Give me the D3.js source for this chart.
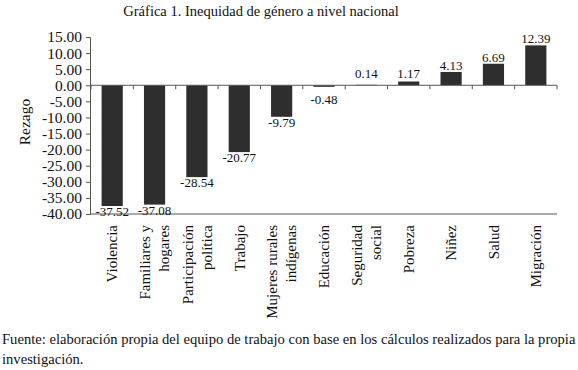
<!DOCTYPE html>
<html>
<head>
<meta charset="utf-8">
<script src="https://cdn.jsdelivr.net/npm/d3@7"></script>
<style>
  body { margin: 0; background: #fff; }
  text { font-family: "Liberation Serif", "DejaVu Serif", serif; fill: #111; }
</style>
</head>
<body>
<div id="chart"></div>
<script>
// DATA
const categories = ["Violencia", "Familiares y|hogares", "Participación|política", "Trabajo",
  "Mujeres rurales|indígenas", "Educación", "Seguridad|social", "Pobreza", "Niñez", "Salud", "Migración"];
const values = [-37.52, -37.08, -28.54, -20.77, -9.79, -0.48, 0.14, 1.17, 4.13, 6.69, 12.39];
const yTicks = [15, 10, 5, 0, -5, -10, -15, -20, -25, -30, -35, -40];

const width = 578, height = 370;
const margin = {top: 37, right: 21, bottom: 156, left: 91};

// plain hyphen for negatives, like the original
const fmt = d3.formatLocale({decimal: ".", thousands: ",", grouping: [3], currency: ["", ""], minus: "-"}).format(".2f");

const svg = d3.select("#chart").append("svg")
  .attr("width", width)
  .attr("height", height);

// SCALES
const xScale = d3.scaleBand()
  .domain(categories)
  .range([margin.left, width - margin.right])
  .paddingInner(0.5)
  .paddingOuter(0.25);

const yScale = d3.scaleLinear()
  .domain([-40, 15])
  .range([height - margin.bottom, margin.top]);

// title
svg.append("text")
  .attr("x", 261)
  .attr("y", 16)
  .attr("text-anchor", "middle")
  .style("font-size", "14.5px")
  .text("Gráfica 1. Inequidad de género a nivel nacional");

// Y AXIS
const yAxis = d3.axisLeft(yScale)
  .tickValues(yTicks)
  .tickFormat(fmt)
  .tickSize(4)
  .tickPadding(4);

const yAxisGroup = svg.append("g")
  .attr("transform", `translate(${margin.left - 1},0)`)
  .call(yAxis);
yAxisGroup.select(".domain").attr("stroke", "#555");
yAxisGroup.selectAll(".tick line").attr("stroke", "#555");
yAxisGroup.selectAll(".tick text")
  .style("font-size", "15.5px")
  .attr("fill", "#111")
  .attr("font-family", null);

svg.append("text")
  .attr("transform", `translate(30, 122) rotate(-90)`)
  .attr("text-anchor", "middle")
  .style("font-size", "15.5px")
  .text("Rezago");

// bottom line at -40
svg.append("line")
  .attr("x1", margin.left - 1).attr("x2", width - margin.right)
  .attr("y1", yScale(-40)).attr("y2", yScale(-40))
  .attr("stroke", "#555");

// BARS
svg.selectAll("rect.bar")
  .data(values)
  .join("rect")
  .attr("class", "bar")
  .attr("x", (d, i) => xScale(categories[i]))
  .attr("width", xScale.bandwidth())
  .attr("y", d => yScale(Math.max(0, d)))
  .attr("height", d => Math.abs(yScale(d) - yScale(0)))
  .attr("fill", "#2e2e2e");

// zero axis with category ticks
const zeroY = yScale(0);
svg.append("line")
  .attr("x1", margin.left - 1).attr("x2", width - margin.right)
  .attr("y1", zeroY).attr("y2", zeroY)
  .attr("stroke", "#555");
const step = xScale.step();
const bounds = d3.range(categories.length + 1).map(i => margin.left + i * step);
svg.selectAll("line.ctick")
  .data(bounds)
  .join("line")
  .attr("class", "ctick")
  .attr("x1", d => d).attr("x2", d => d)
  .attr("y1", zeroY).attr("y2", zeroY + 4)
  .attr("stroke", "#555");

// value labels
svg.selectAll("text.val")
  .data(values)
  .join("text")
  .attr("class", "val")
  .attr("x", (d, i) => xScale(categories[i]) + xScale.bandwidth() / 2)
  .attr("y", d => d < 0 ? Math.max(yScale(d) + 10, zeroY + 19) : Math.min(yScale(d) - 2, zeroY - 7))
  .attr("text-anchor", "middle")
  .style("font-size", "13px")
  .text(d => fmt(d));

// category labels
const labelTop = 225;
const catG = svg.selectAll("g.cat")
  .data(categories)
  .join("g")
  .attr("class", "cat")
  .attr("transform", d => `translate(${xScale(d) + xScale.bandwidth() / 2}, ${labelTop}) rotate(-90)`);

catG.each(function(d) {
  const lines = d.split("|");
  const g = d3.select(this);
  lines.forEach((ln, j) => {
    g.append("text")
      .attr("x", 0)
      .attr("y", (j - (lines.length - 1) / 2) * 19)
      .attr("dy", "0.35em")
      .attr("text-anchor", "end")
      .style("font-size", "15px")
      .text(ln);
  });
});

// footer
svg.append("text")
  .attr("x", 2)
  .attr("y", 344)
  .style("font-size", "14.6px")
  .text("Fuente: elaboración propia del equipo de trabajo con base en los cálculos realizados para la propia");
svg.append("text")
  .attr("x", 2)
  .attr("y", 364)
  .style("font-size", "14.6px")
  .text("investigación.");
</script>
</body>
</html>
